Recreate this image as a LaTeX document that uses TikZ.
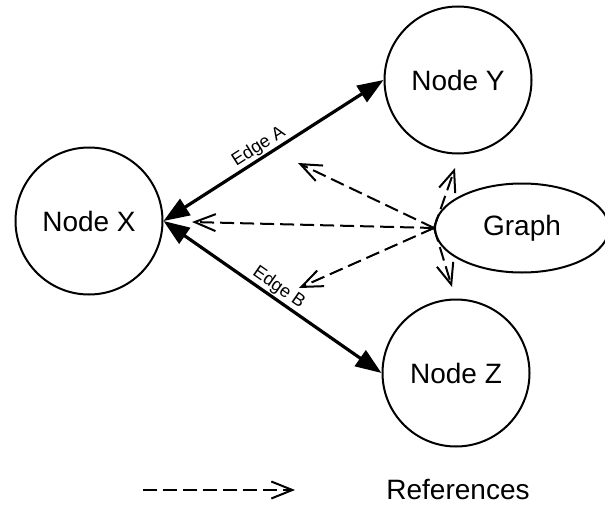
\documentclass[tikz,border=0pt]{standalone}
\usepackage{fontspec}
\setmainfont{Liberation Sans}
\usetikzlibrary{arrows.meta,shapes.geometric}
\begin{document}
\begin{tikzpicture}[x=1pt,y=-1pt,
  circnode/.style={circle,draw,line width=2pt,minimum size=147pt,inner sep=0pt,font=\fontsize{28}{30}\selectfont},
  ellnode/.style={ellipse,draw,line width=2pt,minimum width=174pt,minimum height=89pt,inner sep=0pt,font=\fontsize{28}{30}\selectfont},
  edgeline/.style={line width=3.2pt,{Triangle[length=26pt,width=19pt]}-{Triangle[length=26pt,width=19pt]}},
  refline/.style={line width=2pt,dash pattern=on 14pt off 6pt,-{Straight Barb[length=21pt,width=17pt,line width=2pt]}},
  elabel/.style={above,sloped,inner sep=1pt,font=\fontsize{18}{20}\selectfont}]
\useasboundingbox[fill=white] (0,0) rectangle (605,506);
\node[circnode] (X) at (89,221) {Node X};
\node[circnode] (Y) at (458,80) {Node Y};
\node[circnode] (Z) at (456,373) {Node Z};
\node[ellnode] (G) at (522,228) {Graph};
\draw[edgeline] (X.east) -- node[elabel,pos=0.46] {Edge A} (Y.west);
\draw[edgeline] (X.east) -- node[elabel,pos=0.5] {Edge B} (Z.west);
\coordinate (r1) at (298,163);
\coordinate (r2) at (192,222);
\coordinate (r3) at (299,288);
\coordinate (r4) at (455,168);
\coordinate (r5) at (452,287);
\draw[refline] (G.west) -- (r1);
\draw[refline] (G.west) -- (r2);
\draw[refline] (G.west) -- (r3);
\draw[refline] (G.west) -- (r4);
\draw[refline] (G.west) -- (r5);
\coordinate (l1) at (143,490);
\coordinate (l2) at (295,490);
\draw[refline] (l1) -- (l2);
\node[font=\fontsize{28}{30}\selectfont] (leg) at (458,489) {References};
\end{tikzpicture}
\end{document}
